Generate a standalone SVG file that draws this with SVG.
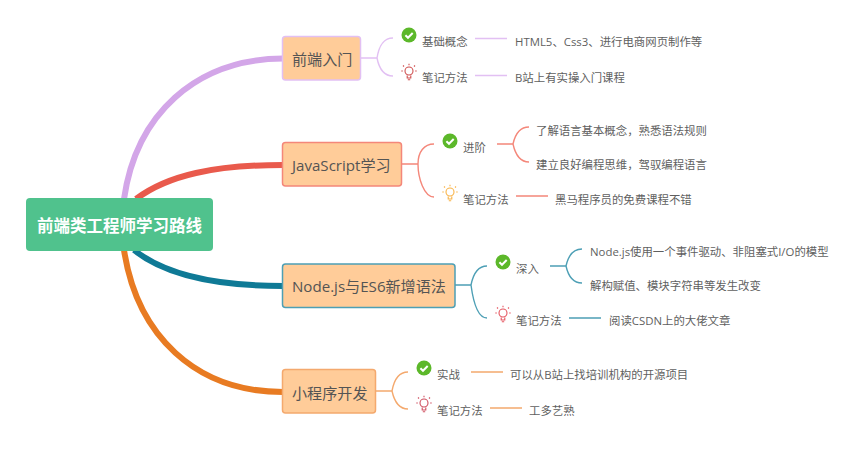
<svg xmlns="http://www.w3.org/2000/svg" width="863" height="450" viewBox="0 0 863 450">
<style>
text{font-family:"Open Sans","Noto Sans CJK SC","Noto Sans",sans-serif}
.n{font-size:15.100px;fill:#545454}
.s{font-size:11.400px;fill:#5f5f5f}
.c{font-size:16.500px;font-weight:700;fill:#fff;font-family:"Noto Sans CJK SC",sans-serif}
.b{fill:#ffcc99;stroke-width:1.5}
.l{fill:none;stroke-width:1.4}
.m{fill:none;stroke-width:6}
</style>
<defs>
<g id="chk"><circle r="7.500" fill="#5cb82a"/><path d="M-3.600 0.200L-1 2.800L3.700-2" fill="none" stroke="#fff" stroke-width="2"/></g>
<g id="blb" fill="none" stroke="currentColor" stroke-width="1.100"><circle cy="-1" r="4"/><path d="M-1.800 3.500V6H1.800V3.500M-1.200 7.700H1.200M0-6.800V-8.300M-5-5.500L-6-6.500M5-5.500L6-6.500M-6.200-1H-7.700M6.200-1H7.700"/></g>
</defs>
<rect width="863" height="450" fill="#fff"/>
<g id="connectors">
<path class="m" stroke="#d3a6e8" d="M124 199C136 115 195 59 283 58.500"/>
<path class="m" stroke="#e95a4c" d="M136 199C168 175 215 165 283 165"/>
<path class="m" stroke="#0f7a96" d="M134 250C165 275 215 286 283 286"/>
<path class="m" stroke="#e87b22" d="M124 250C137 335 195 392 283 392"/>
<g stroke="#e2c0f3">
<path class="l" d="M361 58H377M393 38C383 38 379 46 377 58C379 68 383 76 393 76M475 38.500H507M475 75.500H507"/>
</g>
<g stroke="#f4877a">
<path class="l" d="M402 164H418M434 144C424 144 418 152 418 164C418 178 424 197 434 197M497 144H513M529 127C519 127 515 135 513 144C515 153 519 162 529 162M516 196H548"/>
</g>
<g stroke="#4d9fb5">
<path class="l" d="M455 285H471M487 266C477 266 473 275 471 285C473 300 477 318 487 318M550 266H566M582 249C572 249 568 257 566 266C568 275 572 283 582 283M569 318H601"/>
</g>
<g stroke="#f4a96e">
<path class="l" d="M376 391H392M408 372C398 372 394 380 392 391C394 400 398 409 408 409M471 372H503M490 408H522"/>
</g>
</g>
<g id="root"><rect x="26" y="198" width="187" height="53" rx="4" fill="#50c28d"/><text class="c" x="119.500" y="232" text-anchor="middle">前端类工程师学习路线</text></g>
<g id="n1"><rect class="b" x="282.500" y="36.500" width="78" height="43.500" rx="3" stroke="#e2c0f3"/><text class="n" x="292" y="64.500">前端入门</text></g>
<g id="n2"><rect class="b" x="282.500" y="142.500" width="119" height="43.500" rx="3" stroke="#f4877a"/><text class="n" x="292" y="171">JavaScript学习</text></g>
<g id="n3"><rect class="b" x="282.500" y="264" width="172.500" height="43.500" rx="3" stroke="#4d9fb5"/><text class="n" x="292" y="292">Node.js与ES6新增语法</text></g>
<g id="n4"><rect class="b" x="282.500" y="369.500" width="93" height="43.500" rx="3" stroke="#f4a96e"/><text class="n" x="292" y="398.500">小程序开发</text></g>
<g id="n1a"><use href="#chk" x="409" y="35"/><text class="s" x="422" y="45.500">基础概念</text></g>
<g id="n1a1"><text class="s" x="515" y="45.500">HTML5、Css3、进行电商网页制作等</text></g>
<g id="n1b"><use href="#blb" x="409" y="72" color="#cf4f4f"/><text class="s" x="422" y="81.500">笔记方法</text></g>
<g id="n1b1"><text class="s" x="515" y="81.500">B站上有实操入门课程</text></g>
<g id="n2a"><use href="#chk" x="450" y="141"/><text class="s" x="463" y="151.500">进阶</text></g>
<g id="n2a1"><text class="s" x="536" y="134.500">了解语言基本概念，熟悉语法规则</text></g>
<g id="n2a2"><text class="s" x="536" y="168.500">建立良好编程思维，驾驭编程语言</text></g>
<g id="n2b"><use href="#blb" x="450" y="193" color="#f9b347"/><text class="s" x="463" y="203.500">笔记方法</text></g>
<g id="n2b1"><text class="s" x="555" y="203.500">黑马程序员的免费课程不错</text></g>
<g id="n3a"><use href="#chk" x="503" y="262"/><text class="s" x="516" y="272.500">深入</text></g>
<g id="n3a1"><text class="s" x="590" y="255.500">Node.js使用一个事件驱动、非阻塞式I/O的模型</text></g>
<g id="n3a2"><text class="s" x="590" y="289.500">解构赋值、模块字符串等发生改变</text></g>
<g id="n3b"><use href="#blb" x="503" y="314" color="#e5555f"/><text class="s" x="516" y="324.500">笔记方法</text></g>
<g id="n3b1"><text class="s" x="609" y="324.500">阅读CSDN上的大佬文章</text></g>
<g id="n4a"><use href="#chk" x="424" y="368"/><text class="s" x="437" y="378.500">实战</text></g>
<g id="n4a1"><text class="s" x="510" y="378.500">可以从B站上找培训机构的开源项目</text></g>
<g id="n4b"><use href="#blb" x="424" y="404" color="#cf4f5f"/><text class="s" x="437" y="414.500">笔记方法</text></g>
<g id="n4b1"><text class="s" x="529" y="414.500">工多艺熟</text></g>
</svg>
